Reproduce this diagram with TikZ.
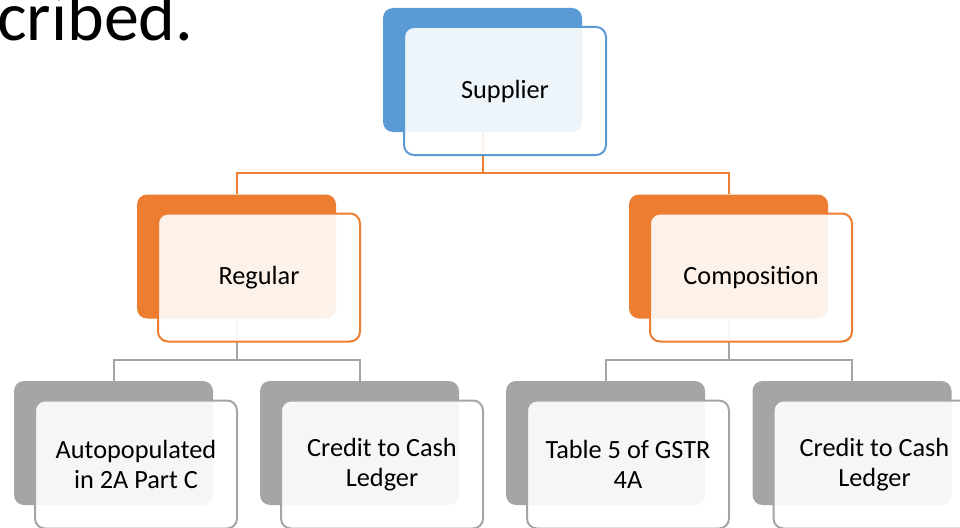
\documentclass[tikz,border=0pt]{standalone}
\usepackage{fontspec}
\setmainfont{Carlito}
\definecolor{cblue}{HTML}{5B9BD5}
\definecolor{corange}{HTML}{ED7D31}
\definecolor{cgray}{HTML}{A5A5A5}
\newcommand{\lowtext}[1]{\raisebox{-3pt}{#1}}
\begin{document}
\begin{tikzpicture}[x=1pt,y=-1pt,
  backbox/.style={rectangle, rounded corners=10pt, fill=#1, draw=none,
    minimum width=199pt, minimum height=124pt, inner sep=0pt},
  frontbox/.style={rectangle, rounded corners=10pt, draw=#1, line width=2pt,
    fill=white, fill opacity=0.9, text opacity=1, minimum width=202pt,
    minimum height=128pt, inner sep=0pt, align=center,
    font=\fontsize{26.3}{30}\selectfont},
  conn/.style={draw=#1, line width=2pt}]
\clip (0,0) rectangle (960,527);
\useasboundingbox (0,0) rectangle (960,527);

\node[anchor=base west, inner sep=0pt, font=\fontsize{70}{80}\selectfont] (title) at (-3,41) {cribed.};

% back boxes
\node[backbox=cblue] (sb) at (482.5,70) {};
\node[backbox=corange] (rb) at (236.5,256.5) {};
\node[backbox=corange] (cb) at (728.5,256.5) {};
\node[backbox=cgray] (ab) at (113.5,443) {};
\node[backbox=cgray] (lb1) at (359.5,443) {};
\node[backbox=cgray] (tb) at (605.5,443) {};
\node[backbox=cgray] (lb2) at (852,443) {};

% connectors
\coordinate (j1) at (482.5,173);
\coordinate (j2) at (236.5,360);
\coordinate (j3) at (728.5,360);
\draw[conn=corange] (sb.south) -- (j1);
\draw[conn=corange] (rb.north) |- (j1) -| (cb.north);
\draw[conn=cgray] (rb.south) -- (j2);
\draw[conn=cgray] (ab.north) |- (j2) -| (lb1.north);
\draw[conn=cgray] (cb.south) -- (j3);
\draw[conn=cgray] (tb.north) |- (j3) -| (lb2.north);

% front boxes
\node[frontbox=cblue] (s) at (505,91) {\lowtext{Supplier}};
\node[frontbox=corange] (r) at (259,277.5) {\lowtext{Regular}};
\node[frontbox=corange] (c) at (751,277.5) {\lowtext{Composition}};
\node[frontbox=cgray] (a) at (136,464.5) {Autopopulated\\in 2A Part C};
\node[frontbox=cgray] (l1) at (382,464.5) {Credit to Cash\\Ledger};
\node[frontbox=cgray] (t) at (628,464.5) {Table 5 of GSTR\\4A};
\node[frontbox=cgray] (l2) at (874.5,464.5) {Credit to Cash\\Ledger};
\end{tikzpicture}
\end{document}
